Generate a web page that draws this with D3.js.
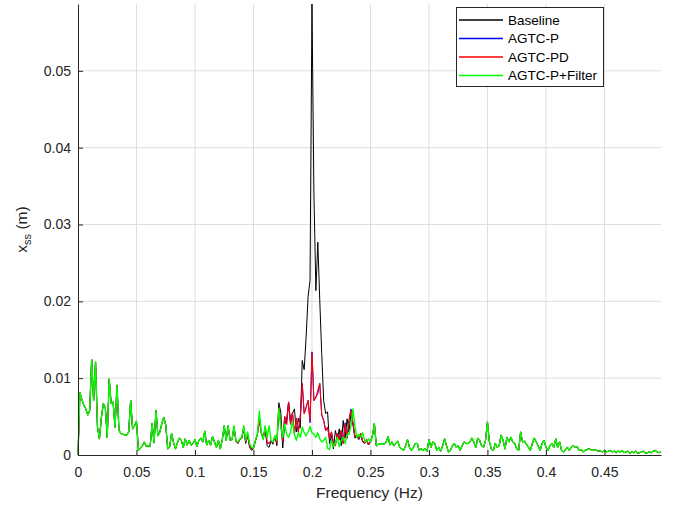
<!DOCTYPE html>
<html>
<head>
<meta charset="utf-8">
<script src="https://cdn.jsdelivr.net/npm/d3@7"></script>
<style>
  body { margin: 0; background: #fff; }
  svg { font-family: "Liberation Sans", Arial, Helvetica, sans-serif; }
</style>
</head>
<body>
<script>
'use strict';

// spectrum bin spacing (Hz)
var df = 1 / 600;

var seriesNames = ['Baseline', 'AGTC-P', 'AGTC-PD', 'AGTC-P+Filter'];
var seriesColors = ['#000000', '#0000ff', '#ff0000', '#00ff00'];
var seriesWidths = [1, 1, 1.1, 1.4];

var xTicks = [0, 0.05, 0.1, 0.15, 0.2, 0.25, 0.3, 0.35, 0.4, 0.45];
var yTicks = [0, 0.01, 0.02, 0.03, 0.04, 0.05];

// bins 0-79, shared by all four runs
var lowBand = [
  0, 0.0081, 0.0072, 0.0065, 0.0060, 0.0052, 0.0058, 0.0124, 0.0071, 0.0121,
  0.0036, 0.0021, 0.0049, 0.0067, 0.0062, 0.0023, 0.0099, 0.0067, 0.0069, 0.0036,
  0.0091, 0.0032, 0.0028, 0.0027, 0.0026, 0.0026, 0.0030, 0.0071, 0.0034, 0.0038,
  0.0044, 0.0006, 0.0009, 0.0012, 0.0017, 0.0011, 0.0012, 0.0011, 0.0041, 0.0016,
  0.0058, 0.0025, 0.0030, 0.0041, 0.0049, 0.0039, 0.0008, 0.0011, 0.0028, 0.0016,
  0.0008, 0.0016, 0.0022, 0.0019, 0.0010, 0.0021, 0.0013, 0.0019, 0.0013, 0.0015,
  0.0020, 0.0011, 0.0019, 0.0022, 0.0017, 0.0031, 0.0013, 0.0019, 0.0013, 0.0024,
  0.0017, 0.0010, 0.0019, 0.0008, 0.0020, 0.0038, 0.0019, 0.0038, 0.0019, 0.0020
];

// bins 80-149, where the runs differ
var baselinePeak = [
  0.0036, 0.0018, 0.0015, 0.0020, 0.0022, 0.0034, 0.0015, 0.0025, 0.0010, 0.0006,
  0.0008, 0.0018, 0.0026, 0.0050, 0.0028, 0.0021, 0.0034, 0.0012, 0.0010, 0.0018,
  0.0014, 0.0025, 0.0012, 0.0068, 0.0056, 0.0009, 0.0040, 0.0046, 0.0069, 0.0044,
  0.0054, 0.0060, 0.0030, 0.0048, 0.0035, 0.0123, 0.0111, 0.0154, 0.0206, 0.0227,
  0.0587, 0.0340, 0.0214, 0.0277, 0.0201, 0.0132, 0.0071, 0.0054, 0.0056, 0.0015,
  0.0026, 0.0008, 0.0032, 0.0020, 0.0034, 0.0012, 0.0045, 0.0022, 0.0047, 0.0030,
  0.0055, 0.0040, 0.0022, 0.0024, 0.0020, 0.0026, 0.0017, 0.0015, 0.0019, 0.0013
];

var agtcPPeak = [
  0.0037, 0.0018, 0.0016, 0.0020, 0.0022, 0.0036, 0.0017, 0.0027, 0.0012, 0.0008,
  0.0010, 0.0019, 0.0027, 0.0045, 0.0029, 0.0022, 0.0036, 0.0016, 0.0015, 0.0019,
  0.0016, 0.0024, 0.0016, 0.0060, 0.0040, 0.0018, 0.0050, 0.0040, 0.0069, 0.0040,
  0.0055, 0.0028, 0.0046, 0.0030, 0.0050, 0.0093, 0.0054, 0.0062, 0.0071, 0.0042,
  0.0134, 0.0071, 0.0075, 0.0080, 0.0093, 0.0052, 0.0045, 0.0032, 0.0036, 0.0022,
  0.0030, 0.0015, 0.0012, 0.0028, 0.0020, 0.0032, 0.0015, 0.0042, 0.0022, 0.0045,
  0.0060, 0.0042, 0.0024, 0.0026, 0.0022, 0.0028, 0.0018, 0.0016, 0.0020, 0.0014
];

var agtcPDPeak = [
  0.0037, 0.0018, 0.0016, 0.0020, 0.0022, 0.0036, 0.0017, 0.0027, 0.0012, 0.0008,
  0.0010, 0.0019, 0.0027, 0.0045, 0.0029, 0.0022, 0.0036, 0.0016, 0.0015, 0.0019,
  0.0016, 0.0024, 0.0016, 0.0060, 0.0040, 0.0018, 0.0050, 0.0040, 0.0069, 0.0040,
  0.0055, 0.0028, 0.0048, 0.0030, 0.0050, 0.0093, 0.0054, 0.0062, 0.0071, 0.0045,
  0.0134, 0.0071, 0.0075, 0.0084, 0.0093, 0.0052, 0.0045, 0.0032, 0.0036, 0.0022,
  0.0030, 0.0015, 0.0012, 0.0028, 0.0020, 0.0032, 0.0015, 0.0040, 0.0022, 0.0045,
  0.0058, 0.0042, 0.0024, 0.0026, 0.0022, 0.0028, 0.0018, 0.0016, 0.0020, 0.0014
];

var filterPeak = [
  0.0038, 0.0019, 0.0017, 0.0021, 0.0023, 0.0038, 0.0019, 0.0030, 0.0015, 0.0010,
  0.0009, 0.0019, 0.0027, 0.0057, 0.0030, 0.0020, 0.0038, 0.0023, 0.0038, 0.0019,
  0.0017, 0.0025, 0.0019, 0.0060, 0.0036, 0.0023, 0.0040, 0.0027, 0.0023, 0.0030,
  0.0044, 0.0027, 0.0019, 0.0029, 0.0023, 0.0036, 0.0029, 0.0025, 0.0030, 0.0037,
  0.0029, 0.0027, 0.0023, 0.0029, 0.0021, 0.0017, 0.0019, 0.0023, 0.0009, 0.0007,
  0.0019, 0.0011, 0.0015, 0.0023, 0.0011, 0.0019, 0.0023, 0.0015, 0.0027, 0.0027,
  0.0038, 0.0060, 0.0038, 0.0023, 0.0027, 0.0023, 0.0029, 0.0019, 0.0017, 0.0021
];

// bins 150-299, shared by all four runs
var highBand = [
  0.0017, 0.0025, 0.0041, 0.0012, 0.0014, 0.0014, 0.0015, 0.0014, 0.0017, 0.0024,
  0.0013, 0.0017, 0.0012, 0.0015, 0.0018, 0.0010, 0.0008, 0.0006, 0.0012, 0.0020,
  0.0010, 0.0006, 0.0010, 0.0015, 0.0015, 0.0006, 0.0008, 0.0006, 0.0008, 0.0005,
  0.0020, 0.0010, 0.0017, 0.0015, 0.0006, 0.0010, 0.0005, 0.0012, 0.0021, 0.0012,
  0.0004, 0.0006, 0.0012, 0.0015, 0.0010, 0.0012, 0.0006, 0.0012, 0.0017, 0.0015,
  0.0015, 0.0017, 0.0022, 0.0017, 0.0010, 0.0022, 0.0019, 0.0012, 0.0010, 0.0019,
  0.0043, 0.0017, 0.0008, 0.0006, 0.0015, 0.0010, 0.0012, 0.0026, 0.0019, 0.0008,
  0.0023, 0.0017, 0.0023, 0.0017, 0.0015, 0.0008, 0.0006, 0.0030, 0.0017, 0.0018,
  0.0014, 0.0010, 0.0006, 0.0015, 0.0022, 0.0017, 0.0012, 0.0006, 0.0015, 0.0019,
  0.0010, 0.0006, 0.0012, 0.0015, 0.0010, 0.0021, 0.0010, 0.0017, 0.0006, 0.0004,
  0.0007, 0.0010, 0.0006, 0.0010, 0.0012, 0.0010, 0.0011, 0.0006, 0.0007, 0.0004,
  0.0006, 0.0007, 0.0008, 0.0007, 0.0006, 0.0007, 0.0006, 0.0005, 0.0005, 0.0004,
  0.0006, 0.0004, 0.0005, 0.0006, 0.0004, 0.0005, 0.0003, 0.0005, 0.0004, 0.0006,
  0.0003, 0.0004, 0.0005, 0.0002, 0.0004, 0.0003, 0.0005, 0.0002, 0.0003, 0.0004,
  0.0005, 0.0002, 0.0003, 0.0004, 0.0003, 0.0005, 0.0006, 0.0004, 0.0003, 0.0004
];

var seriesValues = [
  lowBand.concat(baselinePeak, highBand),
  lowBand.concat(agtcPPeak, highBand),
  lowBand.concat(agtcPDPeak, highBand),
  lowBand.concat(filterPeak, highBand)
];

var width = 673;
var height = 508;
var margin = { top: 4, right: 12, bottom: 53, left: 78 };
var innerW = width - margin.left - margin.right;
var innerH = height - margin.top - margin.bottom;
var axisColor = '#262626';

var svg = d3.select('body').append('svg').attr('width', width).attr('height', height);
var g = svg.append('g').attr('transform', 'translate(' + margin.left + ',' + margin.top + ')');

var nBins = seriesValues[0].length;
var x = d3.scaleLinear().domain([0, (nBins - 1) * df]).range([0, innerW]);
var y = d3.scaleLinear().domain([0, d3.max(seriesValues[0])]).range([innerH, 0]);

// grid
g.append('g').selectAll('line').data(xTicks.slice(1)).enter().append('line')
  .attr('x1', function (d) { return x(d); }).attr('x2', function (d) { return x(d); })
  .attr('y1', 0).attr('y2', innerH)
  .attr('stroke', '#dedede').attr('stroke-width', 1);
g.append('g').selectAll('line').data(yTicks.slice(1)).enter().append('line')
  .attr('y1', function (d) { return y(d); }).attr('y2', function (d) { return y(d); })
  .attr('x1', 0).attr('x2', innerW)
  .attr('stroke', '#dedede').attr('stroke-width', 1);

// lines
var line = d3.line()
  .x(function (d, i) { return x(i * df); })
  .y(function (d) { return y(d); });

g.append('g').selectAll('path').data(seriesValues).enter().append('path')
  .attr('d', line)
  .attr('fill', 'none')
  .attr('stroke', function (d, i) { return seriesColors[i]; })
  .attr('stroke-width', function (d, i) { return seriesWidths[i]; })
  .attr('stroke-linejoin', 'round');

// axes (MATLAB style, ticks pointing in)
var xAxis = d3.axisBottom(x).tickValues(xTicks).tickFormat(function (d) { return String(d); })
  .tickSizeInner(-5).tickSizeOuter(0).tickPadding(12);
var yAxis = d3.axisLeft(y).tickValues(yTicks).tickFormat(function (d) { return String(d); })
  .tickSizeInner(-5).tickSizeOuter(0).tickPadding(12);

var gx = g.append('g').attr('transform', 'translate(0,' + innerH + ')').call(xAxis);
var gy = g.append('g').call(yAxis);

[gx, gy].forEach(function (ax) {
  ax.select('.domain').attr('stroke', axisColor);
  ax.selectAll('.tick line').attr('stroke', axisColor);
  ax.selectAll('.tick text').attr('fill', axisColor).style('font-size', '14px')
    .style('font-family', '"Liberation Sans", Arial, sans-serif');
});
gy.selectAll('.tick text').attr('x', -7);

// axis labels
svg.append('text')
  .attr('x', margin.left + innerW / 2).attr('y', 498)
  .attr('text-anchor', 'middle').attr('fill', axisColor)
  .style('font-size', '15.5px')
  .text('Frequency (Hz)');

var ylab = svg.append('text')
  .attr('transform', 'translate(27,' + (margin.top + innerH / 2) + ') rotate(-90)')
  .attr('text-anchor', 'middle').attr('fill', axisColor)
  .style('font-size', '15.5px');
ylab.append('tspan').text('x');
ylab.append('tspan').attr('dy', 4).style('font-size', '11px').text('ss');
ylab.append('tspan').attr('dy', -4).text(' (m)');

// legend
var legend = svg.append('g').attr('transform', 'translate(456,7)');
legend.append('rect').attr('x', 0.5).attr('y', 0.5).attr('width', 147).attr('height', 79)
  .attr('fill', '#fff').attr('stroke', axisColor).attr('stroke-width', 1);

var items = legend.selectAll('.item').data(seriesNames).enter().append('g')
  .attr('class', 'item')
  .attr('transform', function (d, i) { return 'translate(0,' + (13 + i * 18.5) + ')'; });
items.append('line').attr('x1', 3).attr('x2', 47).attr('y1', 0).attr('y2', 0)
  .attr('stroke', function (d, i) { return seriesColors[i]; }).attr('stroke-width', 1.5);
items.append('text').attr('x', 52).attr('y', 0).attr('dy', '0.35em')
  .attr('fill', '#000').style('font-size', '13.5px')
  .text(function (d) { return d; });
</script>
</body>
</html>
